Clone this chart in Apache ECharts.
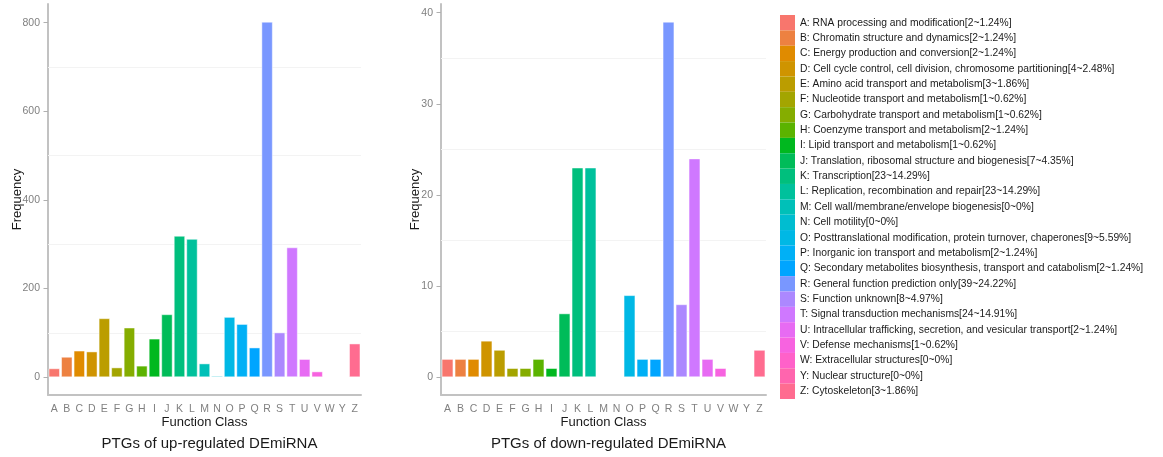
<!DOCTYPE html>
<html>
<head>
<meta charset="utf-8">
<script src="https://cdn.jsdelivr.net/npm/echarts@6/dist/echarts.min.js"></script>
<style>
  html, body { margin: 0; padding: 0; background: #fff; }
  #chart { width: 1163px; height: 457px; }
</style>
</head>
<body>
<div id="chart"></div>
<script>
// COG function classes (letter codes and descriptions)
const classLetters = ['A','B','C','D','E','F','G','H','I','J','K','L','M','N','O','P','Q','R','S','T','U','V','W','Y','Z'];
const classNames = [
  'RNA processing and modification',
  'Chromatin structure and dynamics',
  'Energy production and conversion',
  'Cell cycle control, cell division, chromosome partitioning',
  'Amino acid transport and metabolism',
  'Nucleotide transport and metabolism',
  'Carbohydrate transport and metabolism',
  'Coenzyme transport and metabolism',
  'Lipid transport and metabolism',
  'Translation, ribosomal structure and biogenesis',
  'Transcription',
  'Replication, recombination and repair',
  'Cell wall/membrane/envelope biogenesis',
  'Cell motility',
  'Posttranslational modification, protein turnover, chaperones',
  'Inorganic ion transport and metabolism',
  'Secondary metabolites biosynthesis, transport and catabolism',
  'General function prediction only',
  'Function unknown',
  'Signal transduction mechanisms',
  'Intracellular trafficking, secretion, and vesicular transport',
  'Defense mechanisms',
  'Extracellular structures',
  'Nuclear structure',
  'Cytoskeleton'
];

// Gene counts per class
const upCounts   = [20, 46, 60, 58, 133, 22, 112, 26, 87, 142, 319, 312, 31, 3, 136, 120, 67, 802, 101, 293, 41, 13, 0, 0, 76];
const downCounts = [2, 2, 2, 4, 3, 1, 1, 2, 1, 7, 23, 23, 0, 0, 9, 2, 2, 39, 8, 24, 2, 1, 0, 0, 3];

// Axis ticks
const upTicks = [0, 200, 400, 600, 800];
const upMinorGrid = [100, 300, 500, 700];
const downTicks = [0, 10, 20, 30, 40];
const downMinorGrid = [5, 15, 25, 35];

const panelTitles = ['PTGs of up-regulated DEmiRNA', 'PTGs of down-regulated DEmiRNA'];

// Evenly spaced HCL hues (chroma 100, luminance 65)
function hclColor(h, c, l) {
  const Xn = 95.047, Yn = 100, Zn = 108.883;
  const Y = l > 8 ? Yn * Math.pow((l + 16) / 116, 3) : Yn * l / 903.3;
  const hr = h * Math.PI / 180;
  const U = c * Math.cos(hr), V = c * Math.sin(hr);
  const t = Xn + 15 * Yn + 3 * Zn;
  const un = 4 * Xn / t, vn = 9 * Yn / t;
  const u = U / (13 * l) + un, v = V / (13 * l) + vn;
  const X = 9 * Y * u / (4 * v);
  const Z = -X / 3 - 5 * Y + 3 * Y / v;
  const lin = [
    3.240479 * X - 1.537150 * Y - 0.498535 * Z,
    -0.969256 * X + 1.875992 * Y + 0.041556 * Z,
    0.055648 * X - 0.204043 * Y + 1.057311 * Z
  ].map(x => x / 100);
  const rgb = lin.map(x => {
    const g = x <= 0.0031308 ? 12.92 * x : 1.055 * Math.pow(x, 1 / 2.4) - 0.055;
    return Math.round(Math.min(1, Math.max(0, g)) * 255);
  });
  return '#' + rgb.map(x => x.toString(16).padStart(2, '0')).join('');
}
const n = classLetters.length;
const palette = classLetters.map((_, i) => hclColor((15 + 360 * i / n) % 360, 100, 65));

const downTotal = downCounts.reduce((a, b) => a + b, 0);
const legendLabels = classLetters.map((L, i) =>
  `${L}: ${classNames[i]}[${downCounts[i]}~${Number((downCounts[i] / downTotal * 100).toFixed(2))}%]`);

const grids = [
  { left: 48, top: 4, width: 313, height: 391 },
  { left: 441, top: 4, width: 325, height: 391 }
];

const axisGrey = '#c2c2c2';
const labelGrey = '#808080';
const font = '"Liberation Sans", Arial, Helvetica, sans-serif';

function xAxisFor(gi) {
  return {
    type: 'category', gridIndex: gi, data: classLetters,
    name: 'Function Class', nameLocation: 'middle', nameGap: 20.5, nameMoveOverlap: false,
    nameTextStyle: { fontSize: 13, color: '#1a1a1a', fontFamily: font },
    axisLine: { onZero: false, lineStyle: { color: axisGrey, width: 2 } },
    axisTick: { alignWithLabel: true, length: 4.5, lineStyle: { color: '#b0b0b0', width: 1 } },
    axisLabel: { margin: 9, fontSize: 10.5, color: labelGrey, fontFamily: font, interval: 0 },
    splitLine: { show: false }
  };
}
function yAxisFor(gi, ticks, gap) {
  return {
    type: 'value', gridIndex: gi,
    min: v => -0.05 * v.max, max: v => 1.05 * v.max,
    name: 'Frequency', nameLocation: 'middle', nameGap: gap, nameMoveOverlap: false,
    nameTextStyle: { fontSize: 13, color: '#1a1a1a', fontFamily: font },
    axisLine: { show: true, lineStyle: { color: axisGrey, width: 2 } },
    axisTick: { show: true, length: 4.5, customValues: ticks, lineStyle: { color: '#b0b0b0', width: 1 } },
    axisLabel: { margin: 8, fontSize: 10.5, color: labelGrey, fontFamily: font, customValues: ticks },
    splitLine: { show: false }
  };
}

const series = [];
[upCounts, downCounts].forEach((counts, gi) => {
  const grid = gi === 0 ? upMinorGrid : downMinorGrid;
  classLetters.forEach((L, i) => {
    const s = {
      type: 'bar', name: legendLabels[i], stack: 'cls' + gi,
      xAxisIndex: gi, yAxisIndex: gi,
      barCategoryGap: '10%',
      data: classLetters.map((_, j) => (j === i ? counts[i] : '-')),
      itemStyle: { color: palette[i], borderColor: 'rgba(255,255,255,0.6)', borderWidth: 0.8 },
      silent: true
    };
    if (i === 0) {
      s.markLine = {
        silent: true, symbol: 'none', z: 1,
        label: { show: false },
        lineStyle: { color: '#f3f3f3', type: 'solid', width: 1 },
        data: grid.map(v => ({ yAxis: v }))
      };
    }
    series.push(s);
  });
});

const chart = echarts.init(document.getElementById('chart'), null, { renderer: 'canvas' });
chart.setOption({
  animation: false,
  backgroundColor: '#fff',
  textStyle: { fontFamily: font },
  title: [
    { text: panelTitles[0], left: 204.5, top: 431, textAlign: 'center',
      textStyle: { fontSize: 15, fontWeight: 'normal', color: '#1a1a1a', fontFamily: font } },
    { text: panelTitles[1], left: 603.5, top: 431, textAlign: 'center',
      textStyle: { fontSize: 15, fontWeight: 'normal', color: '#1a1a1a', fontFamily: font } }
  ],
  grid: grids,
  xAxis: [xAxisFor(0), xAxisFor(1)],
  yAxis: [yAxisFor(0, upTicks, 24.5), yAxisFor(1, downTicks, 19)],
  legend: {
    orient: 'vertical', left: 780, top: 15, padding: 0,
    itemWidth: 15, itemHeight: 15.36, itemGap: 0, icon: 'rect',
    itemStyle: { borderWidth: 0 },
    selectedMode: false,
    data: legendLabels,
    textStyle: { fontSize: 10.3, color: '#1a1a1a', fontFamily: font }
  },
  series: series
});
</script>
</body>
</html>
